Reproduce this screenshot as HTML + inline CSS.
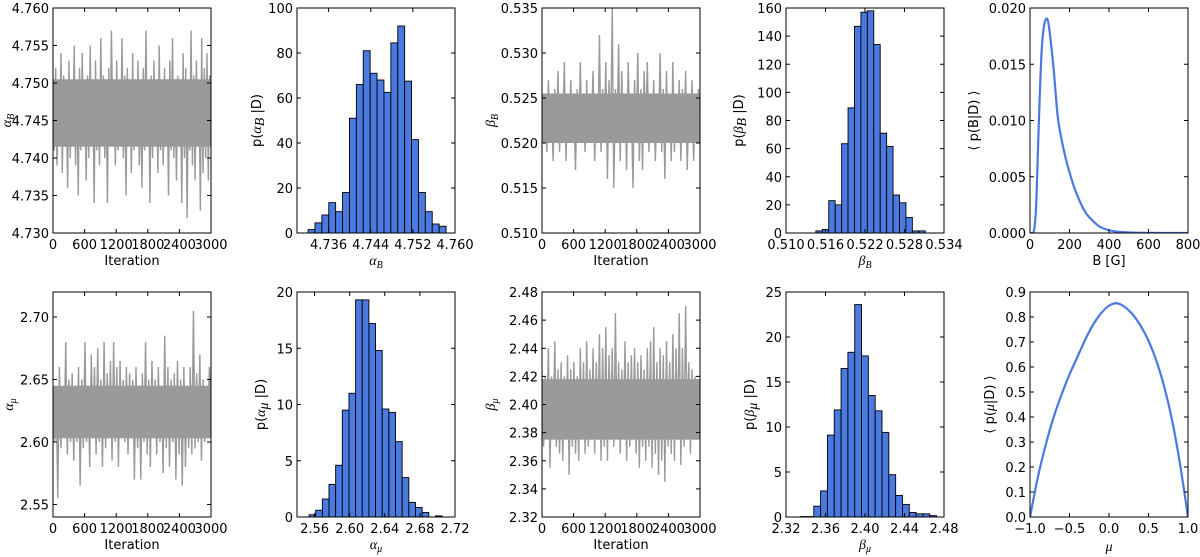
<!DOCTYPE html>
<html><head><meta charset="utf-8">
<style>
html,body{margin:0;padding:0;background:#fff;}
svg{display:block;}
text{font-family:"DejaVu Sans","Liberation Sans",sans-serif;font-size:13px;fill:#000;}
.mth{font-family:"Liberation Serif","DejaVu Serif",serif;font-style:italic;font-size:14px;}
</style></head>
<body>
<svg id="fig" width="1200" height="557" viewBox="0 0 1200 557" xmlns="http://www.w3.org/2000/svg"></svg>
<script>
// ---- data ----
const traceAlphaB = [4.750,4.741,4.752,4.739,4.749,4.743,4.754,4.738,4.751,4.742,4.748,4.736,4.753,4.740,4.750,4.744,4.755,4.739,4.749,4.735,4.752,4.741,4.754,4.743,4.748,4.737,4.751,4.740,4.755,4.742,4.749,4.734,4.753,4.741,4.750,4.739,4.756,4.743,4.751,4.740,4.748,4.734,4.752,4.742,4.757,4.744,4.750,4.739,4.753,4.741,4.749,4.743,4.756,4.740,4.751,4.735,4.752,4.742,4.749,4.738,4.754,4.741,4.750,4.743,4.753,4.739,4.748,4.736,4.752,4.741,4.757,4.742,4.749,4.734,4.751,4.740,4.753,4.743,4.750,4.738,4.755,4.741,4.749,4.739,4.752,4.742,4.750,4.735,4.753,4.741,4.756,4.740,4.749,4.737,4.751,4.742,4.748,4.734,4.754,4.740,4.752,4.732,4.750,4.741,4.757,4.739,4.751,4.737,4.753,4.742,4.749,4.733,4.756,4.738,4.752,4.740,4.754,4.737,4.751,4.745];
const traceBetaB = [0.525,0.520,0.524,0.519,0.527,0.521,0.523,0.518,0.526,0.520,0.528,0.519,0.524,0.521,0.529,0.518,0.525,0.520,0.527,0.522,0.523,0.517,0.526,0.520,0.529,0.521,0.524,0.519,0.527,0.520,0.525,0.522,0.528,0.518,0.524,0.520,0.532,0.519,0.526,0.521,0.529,0.516,0.527,0.520,0.535,0.515,0.526,0.521,0.531,0.518,0.528,0.520,0.525,0.517,0.529,0.521,0.524,0.515,0.527,0.520,0.530,0.518,0.526,0.517,0.528,0.521,0.529,0.519,0.525,0.520,0.527,0.518,0.524,0.521,0.530,0.519,0.526,0.516,0.528,0.520,0.525,0.518,0.529,0.519,0.524,0.521,0.527,0.518,0.526,0.520,0.528,0.517,0.525,0.521,0.527,0.518,0.524,0.520,0.526,0.522];
const traceAlphaMu = [2.630,2.600,2.640,2.555,2.660,2.595,2.640,2.605,2.680,2.590,2.650,2.600,2.655,2.585,2.645,2.600,2.660,2.565,2.650,2.595,2.680,2.600,2.645,2.580,2.670,2.605,2.660,2.590,2.675,2.600,2.650,2.580,2.680,2.595,2.655,2.610,2.665,2.585,2.680,2.600,2.660,2.580,2.665,2.610,2.650,2.600,2.660,2.590,2.655,2.605,2.650,2.570,2.660,2.595,2.645,2.570,2.655,2.600,2.680,2.590,2.650,2.580,2.665,2.605,2.650,2.590,2.660,2.600,2.645,2.575,2.685,2.595,2.660,2.580,2.650,2.600,2.655,2.570,2.665,2.590,2.650,2.565,2.660,2.580,2.645,2.595,2.660,2.590,2.705,2.595,2.655,2.600,2.670,2.585,2.650,2.600,2.640,2.610,2.660,2.620];
const traceBetaMu = [2.400,2.370,2.420,2.380,2.440,2.355,2.420,2.375,2.445,2.370,2.425,2.365,2.430,2.360,2.420,2.375,2.435,2.350,2.425,2.370,2.430,2.365,2.420,2.360,2.440,2.375,2.430,2.365,2.445,2.370,2.425,2.375,2.440,2.365,2.430,2.380,2.450,2.360,2.440,2.370,2.455,2.360,2.435,2.380,2.440,2.370,2.465,2.375,2.430,2.365,2.425,2.380,2.445,2.360,2.430,2.370,2.435,2.375,2.440,2.365,2.430,2.355,2.435,2.370,2.425,2.360,2.440,2.370,2.445,2.355,2.455,2.365,2.430,2.350,2.440,2.360,2.435,2.345,2.445,2.370,2.430,2.365,2.450,2.360,2.440,2.375,2.465,2.357,2.440,2.370,2.470,2.375,2.430,2.365,2.425,2.380,2.420,2.375,2.410,2.390];
// dense core band of each trace (low, high)
const bandAlphaB = [4.7415, 4.7505];
const bandBetaB = [0.5200, 0.5255];
const bandAlphaMu = [2.603, 2.645];
const bandBetaMu = [2.375, 2.418];

const histAlphaB = [1.5,4.5,8,13.5,9.5,18,51,66,81,71,68,62.5,84.5,92,67.5,41.5,18,9.5,4,3];
const histAlphaBStart = 4.7321, histAlphaBWidth = 0.00131;
const histBetaB = [1.5,2.5,23,20,63.5,89,147,157,158,134,71,61.5,27,21.5,11,1.5,1.5];
const histBetaBStart = 0.51454, histBetaBWidth = 0.000977;
const histAlphaMu = [0.2,0.6,1.6,2.9,4.6,9.5,11,19.3,19.3,17.2,14.8,9.6,9.3,6.7,3.5,1.3,0.85,0.4,0,0.1];
const histAlphaMuStart = 2.5537, histAlphaMuWidth = 0.00758;
const histBetaMu = [0.05,0.05,1.2,2.9,9.1,11.9,16.5,18.3,23.6,17.9,13.5,11.8,9.4,4.7,2.4,1.4,0.5,0.35,0.35,0.15];
const histBetaMuStart = 2.3343, histBetaMuWidth = 0.00691;

const bGrid = [0,10,20,30,40,50,60,70,80,90,100,120,140,160,180,200,225,250,275,300,350,400,450,500,600,800];
const bDens = [0,0,0.0002,0.002,0.0072,0.0125,0.0165,0.0183,0.0190,0.0189,0.0178,0.0145,0.0104,0.0083,0.0067,0.0054,0.0040,0.0029,0.0020,0.0014,0.0006,0.00025,0.0001,0.00005,0.00001,0];
const muGrid = [-1,-0.9,-0.8,-0.7,-0.6,-0.5,-0.4,-0.3,-0.2,-0.1,0,0.1,0.2,0.3,0.4,0.5,0.6,0.7,0.8,0.9,1];
const muDens = [0,0.16,0.29,0.40,0.49,0.57,0.64,0.71,0.77,0.815,0.845,0.855,0.84,0.81,0.765,0.705,0.625,0.52,0.385,0.21,0];

const iterTicks = [0,600,1200,1800,2400,3000];

// ---- helpers ----
const NS = "http://www.w3.org/2000/svg";
const fig = document.getElementById('fig');
function mk(tag, attrs, parent){ const e=document.createElementNS(NS,tag); for(const k in attrs) e.setAttribute(k,attrs[k]); (parent||fig).appendChild(e); return e; }
const W=158, H=225;
const BLUE="#4a7ae0";

function fmt(v,d){ let s=v.toFixed(d); return s.replace('-','\u2212'); }

function makePanel(name, left, top, xr, yr, xticks, xd, yticks, yd){
  const g = mk('g',{});
  
  
  const sx = v => left + (v-xr[0])/(xr[1]-xr[0])*W;
  const sy = v => top + H - (v-yr[0])/(yr[1]-yr[0])*H;
  const clipId = name+'-clip';
  const cp = mk('clipPath',{id:clipId},g); mk('rect',{x:left,y:top,width:W,height:H},cp);
  const plot = mk('g',{'clip-path':'url(#'+clipId+')'},g);
  
  
  return {g, plot, sx, sy, left, top, xr, yr, xticks, xd, yticks, yd};
}
function finishPanel(p){
  const {g,sx,sy,left,top} = p;
  const frame = mk('rect',{x:left,y:top,width:W,height:H,fill:'none',stroke:'#000','stroke-width':1},g);
  
  
  p.xticks.forEach(v=>{
    const x=sx(v);
    mk('line',{x1:x,x2:x,y1:top+H,y2:top+H-4,stroke:'#000'},g);
    mk('line',{x1:x,x2:x,y1:top,y2:top+4,stroke:'#000'},g);
    const t=mk('text',{x:x,y:top+H+16,'text-anchor':'middle'},g);
    t.textContent=fmt(v,p.xd);
    
    
  });
  p.yticks.forEach(v=>{
    const y=sy(v);
    mk('line',{x1:left,x2:left+4,y1:y,y2:y,stroke:'#000'},g);
    mk('line',{x1:left+W,x2:left+W-4,y1:y,y2:y,stroke:'#000'},g);
    const t=mk('text',{x:left-4,y:y+5,'text-anchor':'end'},g);
    t.textContent=fmt(v,p.yd);
    
    
  });
}
function drawTrace(p, vals, band){
  const b=mk('rect',{x:p.left,y:p.sy(band[1]),width:W,height:p.sy(band[0])-p.sy(band[1]),fill:'#9a9a9a'},p.plot);
  
  
  const n=vals.length;
  const pts = vals.map((v,i)=> p.sx(i*3000/(n-1)).toFixed(2)+','+p.sy(v).toFixed(2)).join(' ');
  const l=mk('polyline',{points:pts,fill:'none',stroke:'#9a9a9a','stroke-width':1.4},p.plot);
  
  
}
function drawHist(p, vals, start, width){
  vals.forEach((v,i)=>{
    const x0=p.sx(start+i*width), x1=p.sx(start+(i+1)*width);
    const y=p.sy(v), y0=p.sy(0);
    const r=mk('rect',{x:x0,y:y,width:x1-x0,height:Math.max(0,y0-y),fill:BLUE,stroke:'#000','stroke-width':0.9},p.plot);
    
    
  });
}
function drawCurve(p, xs, ys){
  const P = xs.map((x,i)=>[p.sx(x),p.sy(ys[i])]);
  let d='M'+P[0][0]+','+P[0][1];
  for(let i=0;i<P.length-1;i++){
    const p0=P[Math.max(0,i-1)], p1=P[i], p2=P[i+1], p3=P[Math.min(P.length-1,i+2)];
    const c1=[p1[0]+(p2[0]-p0[0])/6, p1[1]+(p2[1]-p0[1])/6];
    const c2=[p2[0]-(p3[0]-p1[0])/6, p2[1]-(p3[1]-p1[1])/6];
    d+=' C'+c1+' '+c2+' '+p2;
  }
  const l=mk('path',{d:d,fill:'none',stroke:BLUE,'stroke-width':2.2},p.plot);
  
  
}
function label(txt, x, y, rot, cls, name){
  const t=mk('text',{x:x,y:y,'text-anchor':'middle'});
  if(rot) t.setAttribute('transform','rotate(-90 '+x+' '+y+')');
  if(cls) t.setAttribute('class',cls);
  t.innerHTML=txt;
  
  
}
function range(a,b,s){ const r=[]; for(let v=a; v<=b+s*1e-6; v+=s) r.push(+v.toFixed(6)); return r; }

const T1=8, T2=292;
const L=[53,297,542,786,1030];
const sub = s => '<tspan font-size="10" dy="3">'+s+'</tspan>';

let p;
p=makePanel('trace-alpha-b',L[0],T1,[0,3000],[4.730,4.760],iterTicks,0,range(4.730,4.760,0.005),3);
drawTrace(p,traceAlphaB,bandAlphaB); finishPanel(p);
p=makePanel('hist-alpha-b',L[1],T1,[4.730,4.760],[0,100],[4.736,4.744,4.752,4.760],3,range(0,100,20),0);
drawHist(p,histAlphaB,histAlphaBStart,histAlphaBWidth); finishPanel(p);
p=makePanel('trace-beta-b',L[2],T1,[0,3000],[0.510,0.535],iterTicks,0,range(0.510,0.535,0.005),3);
drawTrace(p,traceBetaB,bandBetaB); finishPanel(p);
p=makePanel('hist-beta-b',L[3],T1,[0.510,0.534],[0,160],range(0.510,0.534,0.006),3,range(0,160,20),0);
drawHist(p,histBetaB,histBetaBStart,histBetaBWidth); finishPanel(p);
p=makePanel('density-b',L[4],T1,[0,800],[0,0.020],range(0,800,200),0,range(0,0.02,0.005),3);
drawCurve(p,bGrid,bDens); finishPanel(p);
p=makePanel('trace-alpha-mu',L[0],T2,[0,3000],[2.54,2.72],iterTicks,0,[2.55,2.60,2.65,2.70],2);
drawTrace(p,traceAlphaMu,bandAlphaMu); finishPanel(p);
p=makePanel('hist-alpha-mu',L[1],T2,[2.54,2.72],[0,20],range(2.56,2.72,0.04),2,range(0,20,5),0);
drawHist(p,histAlphaMu,histAlphaMuStart,histAlphaMuWidth); finishPanel(p);
p=makePanel('trace-beta-mu',L[2],T2,[0,3000],[2.32,2.48],iterTicks,0,range(2.32,2.48,0.02),2);
drawTrace(p,traceBetaMu,bandBetaMu); finishPanel(p);
p=makePanel('hist-beta-mu',L[3],T2,[2.32,2.48],[0,25],range(2.32,2.48,0.04),2,range(0,25,5),0);
drawHist(p,histBetaMu,histBetaMuStart,histBetaMuWidth); finishPanel(p);
p=makePanel('density-mu',L[4],T2,[-1,1],[0,0.9],range(-1,1,0.5),1,range(0,0.9,0.1),1);
drawCurve(p,muGrid,muDens); finishPanel(p);

const xl1=T1+H+32, xl2=T2+H+32;
label('Iteration',L[0]+W/2,xl1,false,null,'x-axis-title');
label('Iteration',L[2]+W/2,xl1,false,null,'x-axis-title');
label('Iteration',L[0]+W/2,xl2,false,null,'x-axis-title');
label('Iteration',L[2]+W/2,xl2,false,null,'x-axis-title');
label('α'+sub('B'),L[1]+W/2,xl1,false,'mth','x-axis-title');
label('β'+sub('B'),L[3]+W/2,xl1,false,'mth','x-axis-title');
label('B [G]',L[4]+W/2,xl1,false,null,'x-axis-title');
label('α'+sub('μ'),L[1]+W/2,xl2,false,'mth','x-axis-title');
label('β'+sub('μ'),L[3]+W/2,xl2,false,'mth','x-axis-title');
label('μ',L[4]+W/2,xl2+2,false,'mth','x-axis-title');

const yc1=T1+H/2, yc2=T2+H/2;
label('α'+sub('B'),11,yc1,true,'mth','y-axis-title');
label('β'+sub('B'),L[2]-47,yc1,true,'mth','y-axis-title');
label('α'+sub('μ'),13,yc2,true,'mth','y-axis-title');
label('β'+sub('μ'),L[2]-47,yc2,true,'mth','y-axis-title');
label('p(<tspan class="mth">α</tspan><tspan class="mth" font-size="9" dy="3">B</tspan><tspan dy="-3"> |D)</tspan>',L[1]-36,yc1,true,null,'y-axis-title');
label('p(<tspan class="mth">β</tspan><tspan class="mth" font-size="9" dy="3">B</tspan><tspan dy="-3"> |D)</tspan>',L[3]-43,yc1,true,null,'y-axis-title');
label('p(<tspan class="mth">α</tspan><tspan class="mth" font-size="9" dy="3">μ</tspan><tspan dy="-3"> |D)</tspan>',L[1]-32,yc2,true,null,'y-axis-title');
label('p(<tspan class="mth">β</tspan><tspan class="mth" font-size="9" dy="3">μ</tspan><tspan dy="-3"> |D)</tspan>',L[3]-32,yc2,true,null,'y-axis-title');
label('⟨ p(B|D) ⟩',L[4]-52,yc1,true,null,'y-axis-title');
label('⟨ p(<tspan class="mth">μ</tspan>|D) ⟩',L[4]-36,yc2,true,null,'y-axis-title');
</script>
</body></html>
